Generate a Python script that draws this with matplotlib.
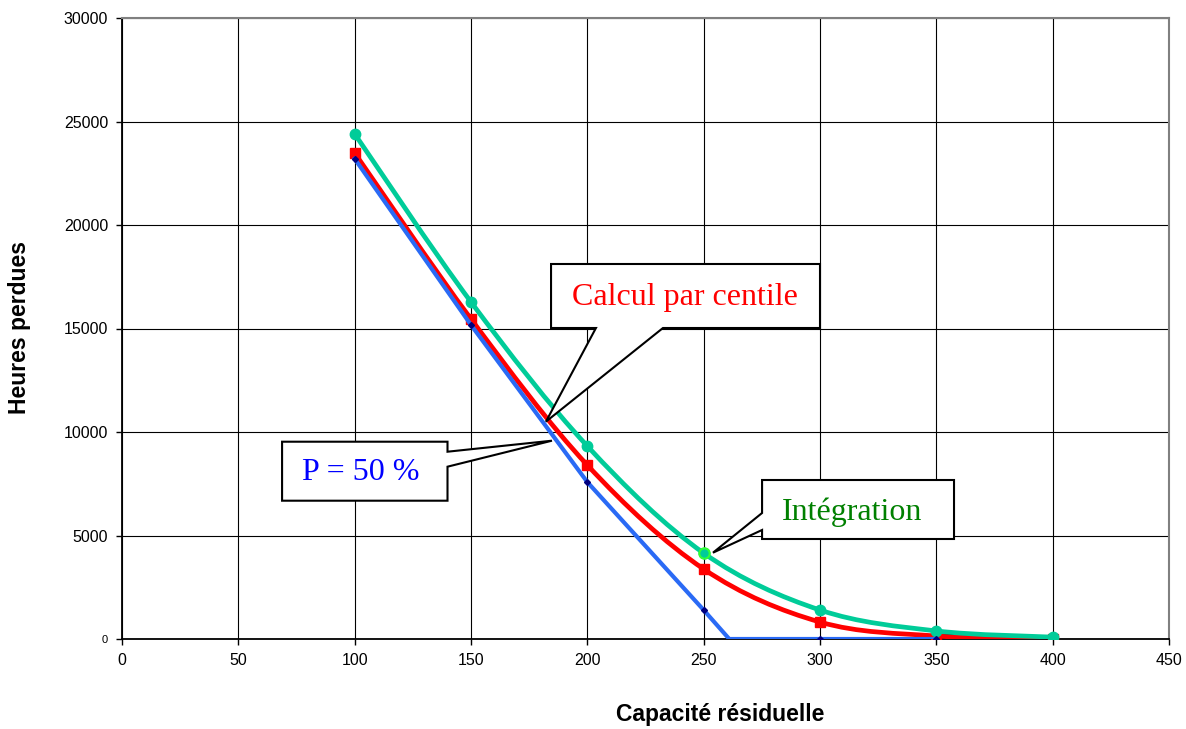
import numpy as np
import matplotlib.pyplot as plt
from matplotlib.path import Path
from matplotlib.patches import PathPatch, Polygon

# données
capacite = [100, 150, 200, 250, 300, 350, 400]
integration = [24400, 16280, 9320, 4150, 1400, 390, 90]
centile = [23480, 15460, 8400, 3380, 820, 145, 0]

# P = 50 % : droite jusqu'au coude vers 261, puis nulle
capacite_p50 = [100, 150, 200, 250, 261, 300, 350]
p50 = [23200, 15170, 7580, 1400, 0, 0, 0]

# petit bout de série noire visible entre 350 et 400
capacite_noir = [350, 400]
noir = [150, 20]

x_ticks = list(range(0, 451, 50))
y_ticks = list(range(0, 30001, 5000))


def courbe_lissee(xs, ys):
    """Chemin de Bézier façon Excel (lissage des courbes)"""
    pts = np.column_stack([xs, ys]).astype(float)
    n = len(pts)
    verts = [pts[0]]
    codes = [Path.MOVETO]
    for i in range(n - 1):
        p0 = pts[max(i - 1, 0)]
        p1 = pts[i]
        p2 = pts[i + 1]
        p3 = pts[min(i + 2, n - 1)]
        c1 = p1 + (p2 - p0) / 6
        c2 = p2 - (p3 - p1) / 6
        verts += [c1, c2, p2]
        codes += [Path.CURVE4] * 3
    return Path(verts, codes)


fig = plt.figure(figsize=(11.86, 7.29), dpi=100)
ax = fig.add_axes([122 / 1186, 1 - 639 / 729, (1169 - 122) / 1186, (639 - 18) / 729])

ax.set_xlim(0, 450)
ax.set_ylim(0, 30000)
ax.set_xticks(x_ticks)
ax.set_yticks(y_ticks)
ax.set_xticklabels([str(v) for v in x_ticks])
ax.set_yticklabels([str(v) for v in y_ticks])
ax.tick_params(axis='both', direction='out', length=4, width=1, labelsize=11.5, pad=6)
ax.get_yticklabels()[0].set_fontsize(8)
ax.grid(True, color='black', linewidth=0.8)
ax.set_axisbelow(True)
for s in ['left', 'bottom']:
    ax.spines[s].set_color('black')
    ax.spines[s].set_linewidth(1.3)
for s in ['top', 'right']:
    ax.spines[s].set_color('#808080')
    ax.spines[s].set_linewidth(1.5)

# séries
ax.plot(capacite_noir, noir, color='black', linewidth=3.4, zorder=3)

ax.add_patch(PathPatch(courbe_lissee(capacite, centile), fill=False,
                       edgecolor='#ff0000', linewidth=3.4, zorder=4))
ax.plot(capacite, centile, linestyle='none', marker='s', markersize=7.5,
        color='#ff0000', zorder=4)

ax.add_patch(PathPatch(courbe_lissee(capacite, integration), fill=False,
                       edgecolor='#00cc99', linewidth=3.4, zorder=5))
ax.plot(capacite, integration, linestyle='none', marker='o', markersize=7.5,
        color='#00cc99', zorder=5)
# point désigné par la bulle (contour vert vif)
ax.plot(capacite[3], integration[3], linestyle='none', marker='o', markersize=7.5,
        markerfacecolor='#00cc99', markeredgecolor='#33ff33', markeredgewidth=1.5, zorder=5)

ax.plot(capacite_p50, p50, color='#2a6af5', linewidth=3.0, zorder=6,
        marker='D', markersize=3, markerfacecolor='#000080', markeredgecolor='#000080',
        markevery=[0, 1, 2, 3, 5, 6])

# bulles de légende
def bulle(sommets, texte, tx, ty, couleur):
    ax.add_patch(Polygon(sommets, closed=True, facecolor='white', edgecolor='black',
                         linewidth=1.5, zorder=8, clip_on=False))
    ax.text(tx, ty, texte, color=couleur, fontsize=23, family='Liberation Serif',
            ha='center', va='center', zorder=9)

bulle([(184.4, 18116), (300.0, 18116), (300.0, 15024), (232.5, 15024),
       (182.2, 10500), (203.7, 15024), (184.4, 15024)],
      'Calcul par centile', 242.0, 16500, '#ff0000')

bulle([(68.8, 9531), (139.9, 9531), (139.9, 9048), (184.8, 9580),
       (139.9, 8324), (139.9, 6681), (68.8, 6681)],
      'P = 50 %', 102.7, 8050, '#0000ff')

bulle([(275.1, 7681), (357.6, 7681), (357.6, 4831), (275.1, 4831),
       (275.1, 5266), (254.0, 4169), (275.1, 6087)],
      'Intégration', 313.9, 6130, '#008000')

fig.text(720 / 1186, 1 - 714 / 729, 'Capacité résiduelle', fontsize=16.5,
         fontweight='bold', family='Liberation Sans', ha='center', va='center')
fig.text(20 / 1186, 1 - 328 / 729, 'Heures perdues', fontsize=16.5, rotation=90,
         fontweight='bold', family='Liberation Sans', ha='center', va='center')

for lab in ax.get_xticklabels() + ax.get_yticklabels():
    lab.set_family('Liberation Sans')

fig.savefig('out.png', dpi=100)
